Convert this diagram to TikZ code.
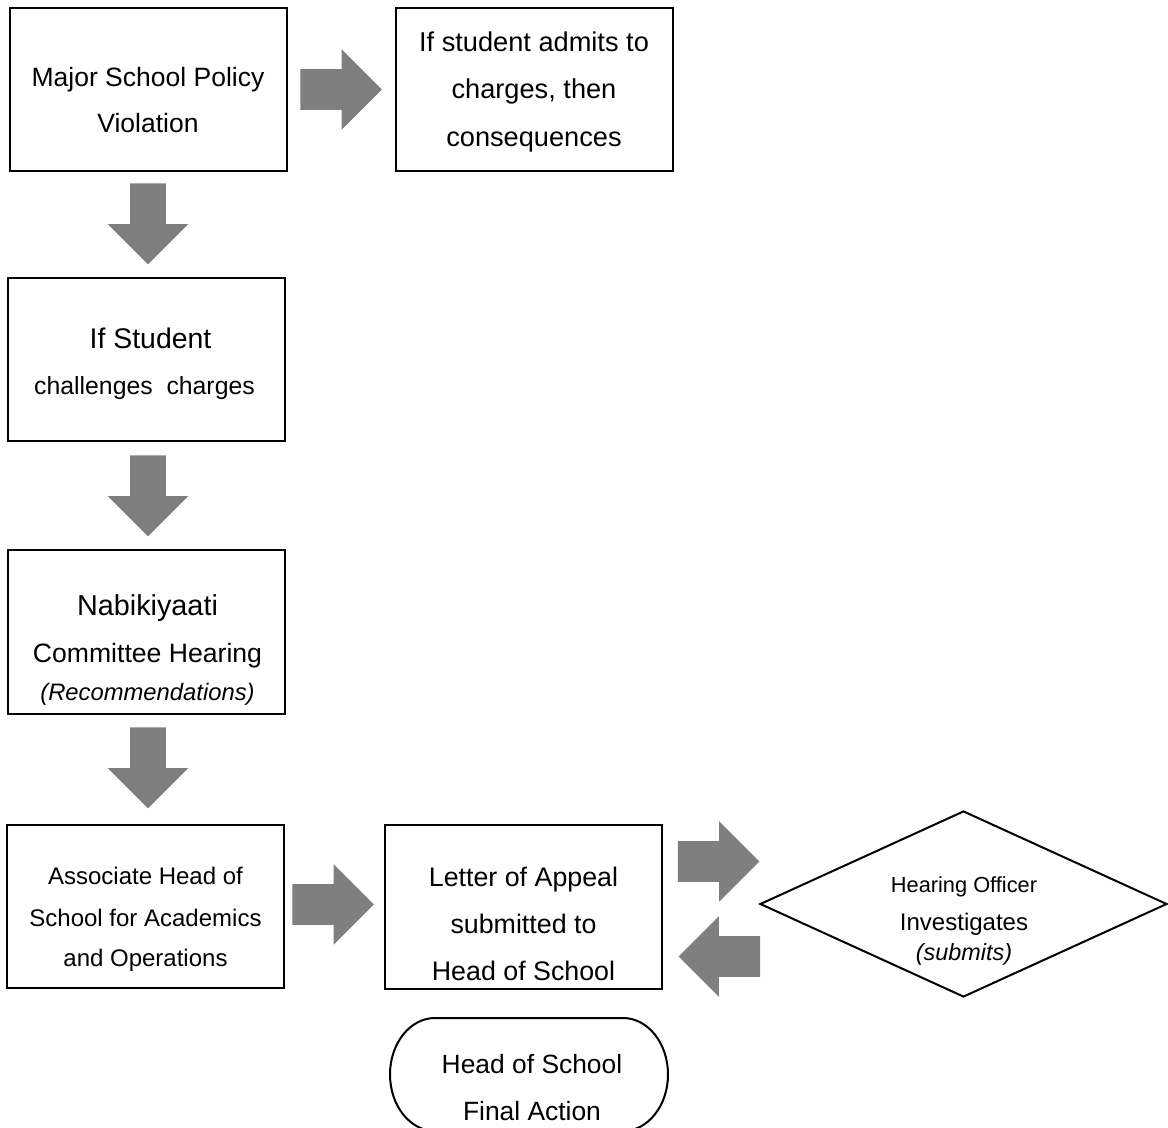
\documentclass[tikz,border=0pt]{standalone}
\usepackage{fontspec}
\setmainfont{Liberation Sans}
\usetikzlibrary{shapes.geometric,shapes.arrows}
\definecolor{arrowgray}{RGB}{127,127,127}
\newcommand\fsz[1]{\fontsize{#1}{#1}\selectfont}
\begin{document}
\begin{tikzpicture}[x=0.5pt,y=-0.5pt,
  box/.style={draw=black,line width=1pt,inner sep=0pt,minimum width=138.5pt,minimum height=81.5pt},
  txt/.style={anchor=base,inner sep=0pt,text=black},
  rarrow/.style={single arrow,fill=arrowgray,draw=none,inner sep=0pt,
     text height=20pt,text depth=0pt,minimum height=40.75pt,
     single arrow head extend=10pt,single arrow head indent=0pt},
  darrow/.style={single arrow,fill=arrowgray,draw=none,inner sep=0pt,
     text height=17.5pt,text depth=0pt,minimum height=40.5pt,
     single arrow head extend=11.25pt,single arrow head indent=0pt,rotate=-90}
]
\useasboundingbox (0,0) rectangle (1168,1128);
\clip (0,0) rectangle (1168,1128);

% boxes
\node[box] (b1) at (148,89.5) {};
\node[box] (b2) at (534.5,89.5) {};
\node[box] (b3) at (146.5,360) {};
\node[box,minimum height=82pt] (b4) at (146.5,632) {};
\node[box] (b5) at (145.5,906.5) {};
\node[box,minimum height=82pt] (b6) at (523,906.5) {};
\node[diamond,draw=black,line width=1pt,inner sep=0pt,minimum width=203.5pt,minimum height=93pt] (dm) at (963.5,904) {};
\draw[line width=1pt] (435,1018) -- (623,1018)
   .. controls (647.9,1018) and (668,1043.3) .. (668,1074.5)
   .. controls (668,1105.7) and (647.9,1131) .. (623,1131)
   -- (435,1131)
   .. controls (410.1,1131) and (390,1105.7) .. (390,1074.5)
   .. controls (390,1043.3) and (410.1,1018) .. (435,1018) -- cycle;
\coordinate (st) at (529,1074.5);

% texts
\node[txt,font=\fsz{13.25}] (t1a) at (148,87) {Major School Policy};
\node[txt,font=\fsz{13.25}] (t1b) at (148,133) {Violation};
\node[txt,font=\fsz{13.6}] (t2a) at (534,52) {If student admits to};
\node[txt,font=\fsz{13.6}] (t2b) at (534,99) {charges, then};
\node[txt,font=\fsz{13.6}] (t2c) at (534,147) {consequences};
\node[txt,font=\fsz{14.2}] (t3a) at (150.5,349) {If Student};
\node[txt,font=\fsz{12.4}] (t3b) at (144.5,395) {challenges\ \ charges};
\node[txt,font=\fsz{14.4}] (t4a) at (147.5,616) {Nabikiyaati};
\node[txt,font=\fsz{13.3}] (t4b) at (147.5,662) {Committee Hearing};
\node[txt,font=\fsz{11.9}\itshape] (t4c) at (147.5,700) {(Recommendations)};
\node[txt,font=\fsz{12}] (t5a) at (145.5,884) {Associate Head of};
\node[txt,font=\fsz{12}] (t5b) at (145.5,926) {School for Academics};
\node[txt,font=\fsz{12}] (t5c) at (145.5,966) {and Operations};
\node[txt,font=\fsz{13.4}] (t6a) at (523.5,886) {Letter of Appeal};
\node[txt,font=\fsz{13.4}] (t6b) at (523.5,933) {submitted to};
\node[txt,font=\fsz{13.4}] (t6c) at (523.5,980) {Head of School};
\node[txt,font=\fsz{10.9}] (t7a) at (964,892) {Hearing Officer};
\node[txt,font=\fsz{12}] (t7b) at (964,930) {Investigates};
\node[txt,font=\fsz{11.7}\itshape] (t7c) at (964,960) {(submits)};
\node[txt,font=\fsz{13.2}] (t8a) at (532,1073) {Head of School};
\node[txt,font=\fsz{13.2}] (t8b) at (532,1120) {Final Action};

% block arrows
\node[rarrow] (a1) at (331,89.5) {};
\node[darrow] (a2) at (148,215) {};
\node[darrow] (a3) at (148,487) {};
\node[darrow] (a4) at (148,759) {};
\node[rarrow] (a5) at (323,904.5) {};
\node[rarrow] (a6) at (708.5,861.5) {};
\node[rarrow,rotate=180] (a7) at (729.5,956.5) {};
\end{tikzpicture}
\end{document}
